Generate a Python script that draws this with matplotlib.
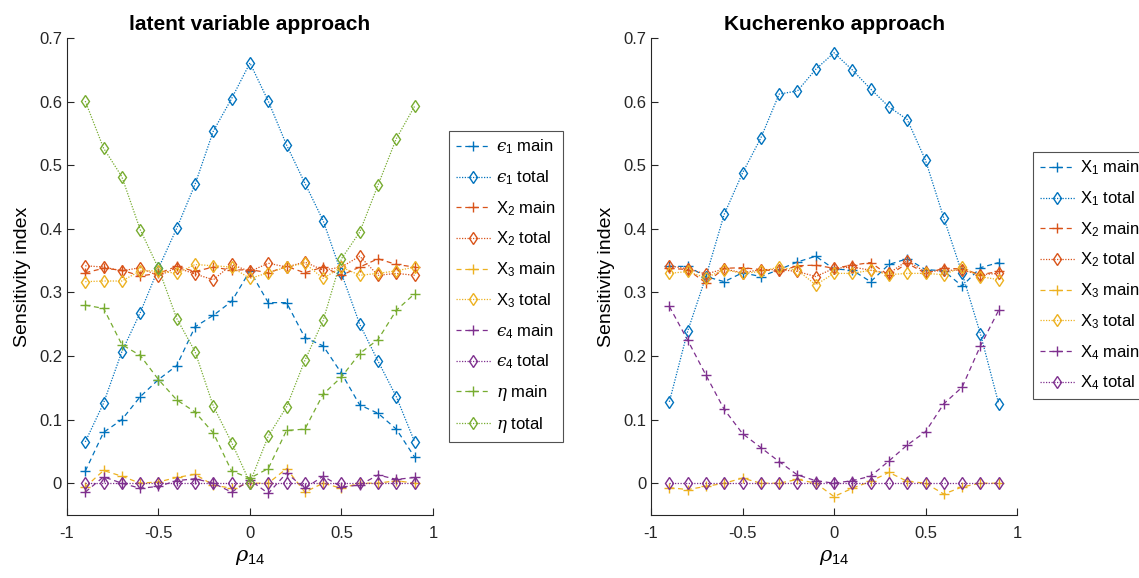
import numpy as np
import matplotlib
matplotlib.use('Agg')
import matplotlib.pyplot as plt

plt.rcParams['font.family'] = ['Liberation Sans', 'DejaVu Sans']
plt.rcParams['mathtext.fontset'] = 'custom'
plt.rcParams['mathtext.rm'] = 'Liberation Sans'
plt.rcParams['mathtext.it'] = 'DejaVu Serif:italic'

rho = np.round(np.arange(-0.9, 0.91, 0.1), 1)

# latent variable approach
lat_eps1_main = [0.019, 0.080, 0.100, 0.136, 0.163, 0.185, 0.246, 0.264, 0.286, 0.334,
                 0.284, 0.284, 0.229, 0.216, 0.173, 0.123, 0.110, 0.085, 0.041]
lat_eps1_total = [0.065, 0.126, 0.207, 0.268, 0.338, 0.401, 0.470, 0.554, 0.605, 0.661,
                  0.601, 0.532, 0.472, 0.413, 0.330, 0.250, 0.192, 0.136, 0.065]
lat_x2_main = [0.331, 0.338, 0.335, 0.326, 0.330, 0.341, 0.333, 0.340, 0.335, 0.336,
               0.331, 0.341, 0.331, 0.340, 0.327, 0.340, 0.353, 0.344, 0.340]
lat_x2_total = [0.342, 0.340, 0.334, 0.339, 0.326, 0.339, 0.329, 0.320, 0.344, 0.333,
                0.346, 0.340, 0.348, 0.335, 0.340, 0.357, 0.327, 0.330, 0.327]
lat_x3_main = [-0.006, 0.020, 0.011, 0.000, 0.002, 0.009, 0.014, -0.003, -0.008, 0.000,
               0.000, 0.023, -0.014, 0.000, -0.008, 0.000, 0.000, 0.004, 0.000]
lat_x3_total = [0.317, 0.318, 0.318, 0.334, 0.334, 0.330, 0.344, 0.342, 0.340, 0.322,
                0.331, 0.340, 0.346, 0.322, 0.340, 0.327, 0.330, 0.334, 0.340]
lat_eps4_main = [-0.014, 0.010, 0.000, -0.008, -0.005, 0.004, 0.007, 0.000, -0.014, 0.005,
                 -0.016, 0.016, -0.008, 0.011, -0.006, -0.003, 0.013, 0.006, 0.009]
lat_eps4_total = [0.0] * 19
lat_eta_main = [0.280, 0.275, 0.218, 0.201, 0.163, 0.131, 0.112, 0.079, 0.019, 0.008,
                0.023, 0.083, 0.085, 0.140, 0.167, 0.204, 0.226, 0.272, 0.298]
lat_eta_total = [0.601, 0.527, 0.482, 0.399, 0.338, 0.259, 0.207, 0.121, 0.064, 0.001,
                 0.074, 0.120, 0.193, 0.256, 0.353, 0.395, 0.469, 0.542, 0.593]

# Kucherenko approach
kuc_x1_main = [0.341, 0.341, 0.325, 0.317, 0.331, 0.325, 0.336, 0.348, 0.357, 0.337,
               0.335, 0.317, 0.344, 0.353, 0.336, 0.334, 0.310, 0.339, 0.347]
kuc_x1_total = [0.128, 0.239, 0.325, 0.423, 0.488, 0.543, 0.612, 0.617, 0.651, 0.677,
                0.650, 0.620, 0.592, 0.572, 0.508, 0.417, 0.330, 0.235, 0.125]
kuc_x2_main = [0.338, 0.336, 0.315, 0.338, 0.339, 0.336, 0.333, 0.342, 0.343, 0.338,
               0.343, 0.347, 0.327, 0.346, 0.330, 0.338, 0.337, 0.328, 0.333]
kuc_x2_total = [0.342, 0.337, 0.329, 0.337, 0.331, 0.336, 0.336, 0.333, 0.325, 0.338,
                0.340, 0.335, 0.330, 0.350, 0.332, 0.335, 0.335, 0.328, 0.330]
kuc_x3_main = [-0.007, -0.010, -0.005, 0.000, 0.008, 0.000, 0.000, 0.006, 0.000, -0.021,
               -0.008, 0.003, 0.017, 0.003, 0.000, -0.017, -0.006, 0.000, 0.000]
kuc_x3_total = [0.330, 0.333, 0.323, 0.336, 0.330, 0.333, 0.340, 0.335, 0.312, 0.330,
                0.330, 0.335, 0.328, 0.330, 0.330, 0.328, 0.340, 0.325, 0.320]
kuc_x4_main = [0.278, 0.225, 0.170, 0.116, 0.078, 0.056, 0.034, 0.013, 0.004, 0.000,
               0.004, 0.011, 0.035, 0.060, 0.081, 0.125, 0.151, 0.216, 0.272]
kuc_x4_total = [0.0] * 19

colors = ['#0072BD', '#D95319', '#EDB120', '#7E2F8E', '#77AC30']

lat_series = [
    (lat_eps1_main, lat_eps1_total, '$\u03f5_1$'),
    (lat_x2_main, lat_x2_total, r'X$_2$'),
    (lat_x3_main, lat_x3_total, r'X$_3$'),
    (lat_eps4_main, lat_eps4_total, '$\u03f5_4$'),
    (lat_eta_main, lat_eta_total, r'$\eta$'),
]
kuc_series = [
    (kuc_x1_main, kuc_x1_total, r'X$_1$'),
    (kuc_x2_main, kuc_x2_total, r'X$_2$'),
    (kuc_x3_main, kuc_x3_total, r'X$_3$'),
    (kuc_x4_main, kuc_x4_total, r'X$_4$'),
]

fig = plt.figure(figsize=(11.39, 5.78), dpi=100)
ax1 = fig.add_axes([0.0588, 0.109, 0.3213, 0.825])
ax2 = fig.add_axes([0.5716, 0.109, 0.3213, 0.825])


def draw_panel(ax, series, title):
    for i, (main, total, name) in enumerate(series):
        c = colors[i]
        ax.plot(rho, main, linestyle=(0, (4, 3)), marker='+', color=c, lw=0.9,
                ms=7, mew=1.0, label=name + ' main')
        ax.plot(rho, total, linestyle=(0, (1, 1.2)), marker='d', color=c, lw=0.9,
                ms=6.5, mew=1.0, mfc='none', label=name + ' total')
    ax.set_xlim(-1, 1)
    ax.set_ylim(-0.05, 0.7)
    ax.set_xticks([-1, -0.5, 0, 0.5, 1])
    ax.set_xticklabels(['-1', '-0.5', '0', '0.5', '1'])
    ax.set_yticks(np.arange(0, 0.71, 0.1))
    ax.set_yticklabels(['0', '0.1', '0.2', '0.3', '0.4', '0.5', '0.6', '0.7'])
    ax.spines['top'].set_visible(False)
    ax.spines['right'].set_visible(False)
    for s in ['left', 'bottom']:
        ax.spines[s].set_color('#262626')
        ax.spines[s].set_linewidth(0.8)
    ax.tick_params(direction='in', labelsize=12, colors='#262626', length=5, width=0.8)
    ax.tick_params(axis='x', pad=8)
    ax.set_title(title, fontsize=15, fontweight='bold', pad=6)
    ax.set_xlabel(r'$\rho_{14}$', fontsize=15, labelpad=5)
    ax.set_ylabel('Sensitivity index', fontsize=14, labelpad=6)


draw_panel(ax1, lat_series, 'latent variable approach')
draw_panel(ax2, kuc_series, 'Kucherenko approach')

leg_kw = dict(fontsize=12, frameon=True, fancybox=False, edgecolor='#262626',
              handlelength=2.1, handletextpad=0.35, labelspacing=0.72,
              borderpad=0.4, borderaxespad=0)
l1 = ax1.legend(loc='upper left', bbox_to_anchor=(449 / 1139, 1 - 131 / 578),
                bbox_transform=fig.transFigure, **leg_kw)
l2 = ax2.legend(loc='upper left', bbox_to_anchor=(1033 / 1139, 1 - 152 / 578),
                bbox_transform=fig.transFigure, **leg_kw)
for l in (l1, l2):
    l.get_frame().set_linewidth(0.8)

fig.savefig('out.png', dpi=100)
